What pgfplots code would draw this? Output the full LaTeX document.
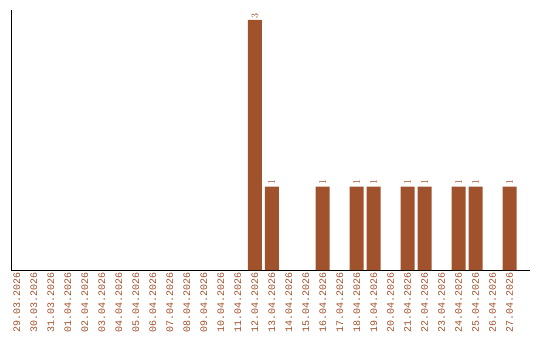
\documentclass[border=0pt]{standalone}
\usepackage{pgfplots}
\pgfplotsset{compat=1.18}
\usepackage{fontspec}
\setmainfont{Liberation Sans}
\newfontfamily\monofont{Liberation Mono}
\definecolor{bar}{HTML}{A0522D}
\begin{document}
\begin{tikzpicture}
\path[use as bounding box] (0,0) rectangle (540bp,340bp);
\begin{axis}[
  at={(11bp,70bp)}, anchor=south west,
  scale only axis, width=519bp, height=260bp,
  clip=false,
  axis x line=bottom, axis y line=left,
  axis line style={black, line width=0.8pt, -},
  xmin=-0.35, xmax=30.2, ymin=0, ymax=3.12,
  ytick=\empty,
  xtick={0,...,29},
  xticklabels={29.03.2026,30.03.2026,31.03.2026,01.04.2026,02.04.2026,03.04.2026,04.04.2026,05.04.2026,06.04.2026,07.04.2026,08.04.2026,09.04.2026,10.04.2026,11.04.2026,12.04.2026,13.04.2026,14.04.2026,15.04.2026,16.04.2026,17.04.2026,18.04.2026,19.04.2026,20.04.2026,21.04.2026,22.04.2026,23.04.2026,24.04.2026,25.04.2026,26.04.2026,27.04.2026},
  xticklabel style={rotate=90, anchor=east, font=\monofont\fontsize{10bp}{12bp}\selectfont, text=bar, inner sep=2bp},
  major tick length=0pt,
  ybar, bar width=14bp,
  nodes near coords,
  every node near coord/.append style={rotate=90, anchor=west, font=\monofont\fontsize{10bp}{12bp}\selectfont, text=bar, inner sep=1.5bp},
]
\addplot[fill=bar, draw=none, bar shift=0pt] coordinates {
(14,3) (15,1) (18,1) (20,1) (21,1) (23,1) (24,1) (26,1) (27,1) (29,1)
};
\end{axis}
\end{tikzpicture}
\end{document}
